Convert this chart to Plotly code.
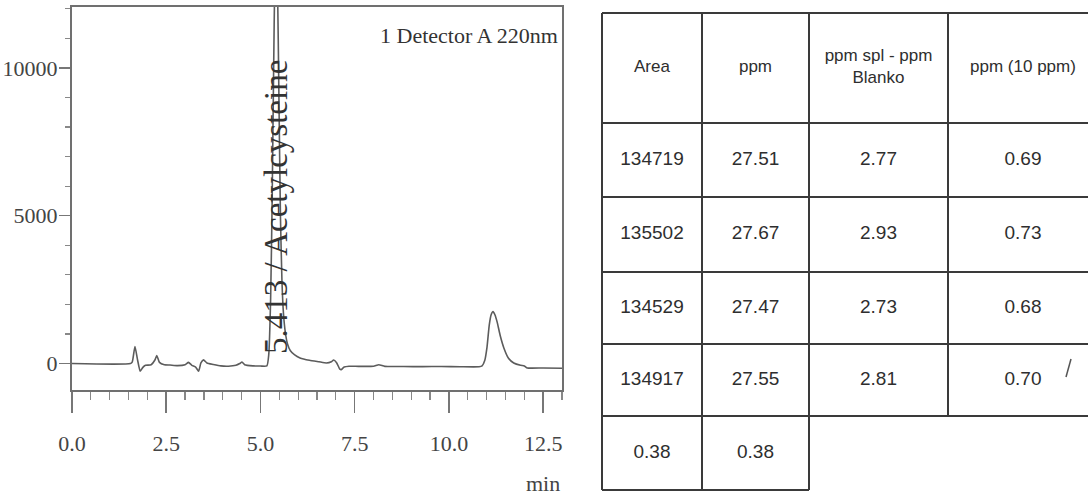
import plotly.graph_objects as go

# ---------------- chromatogram data ----------------
retention_min = [0.00, 1.55, 1.60, 1.67, 1.74, 1.81, 1.88, 1.95, 2.10, 2.20, 2.25, 2.32,
                 2.45, 2.60, 2.80, 3.00, 3.09, 3.18, 3.28, 3.36, 3.42, 3.49, 3.58, 3.75,
                 3.95, 4.15, 4.35, 4.45, 4.51, 4.58, 4.80, 5.00, 5.17, 5.22, 5.27, 5.31,
                 5.35, 5.38, 5.413, 5.45, 5.49, 5.53, 5.57, 5.61, 5.66, 5.72, 5.79, 5.90,
                 6.05, 6.30, 6.55, 6.75, 6.88, 6.94, 7.02, 7.10, 7.14, 7.22, 7.35, 7.60,
                 8.00, 8.14, 8.30, 8.80, 9.30, 9.80, 10.30, 10.80, 10.88, 10.95, 11.01,
                 11.07, 11.12, 11.17, 11.22, 11.28, 11.36, 11.46, 11.58, 11.72, 11.90,
                 12.00, 12.08, 12.50, 13.00]
signal_uv = [0, 0, 60, 575, 120, -260, -130, -60, -40, 120, 270, 40,
             -40, -50, -70, -40, 40, -60, -120, -260, 20, 125, 20, -30,
             -80, -90, -60, 0, 50, -40, -80, -85, -80, 300, 2200, 5500,
             10000, 13000, 14500, 13000, 9000, 5000, 2800, 1700, 1050, 650, 440, 300,
             190, 110, 60, 20, 60, 120, 30, -180, -210, -120, -90, -95,
             -90, -40, -95, -100, -105, -100, -110, -110, -80, 100, 550,
             1300, 1650, 1760, 1650, 1400, 950, 520, 180, 20, -60,
             -80, -150, -150, -160]

peak_rt = 5.413
peak_name = "Acetylcysteine"
detector_label = "1 Detector A 220nm"
x_unit = "min"

# ---------------- table data ----------------
table_headers = ["Area", "ppm", "ppm spl - ppm<br>Blanko", "ppm (10 ppm)"]
col_area = [134719, 135502, 134529, 134917, 0.38]
col_ppm = [27.51, 27.67, 27.47, 27.55, 0.38]
col_ppm_diff = [2.77, 2.93, 2.73, 2.81]
col_ppm_10 = [0.69, 0.73, 0.68, 0.70]
table_columns = [col_area, col_ppm, col_ppm_diff, col_ppm_10]


def fmt(v):
    return str(v) if isinstance(v, int) else f"{v:.2f}"


# ---------------- layout constants (pixels of the 1088x497 page) ----------------
W, H = 1088, 497
SERIF = "Liberation Serif, Times New Roman, serif"
SANS = "Liberation Sans, Arial, sans-serif"
COL_EDGES = [602, 702, 809, 948, 1098]
ROW_EDGES = [13, 123, 197, 272, 344, 416, 490]

fig = go.Figure()

fig.add_trace(go.Scatter(
    x=retention_min, y=signal_uv, mode="lines",
    line=dict(color="#5c5c5c", width=1.6, shape="spline", smoothing=0.5),
    xaxis="x", yaxis="y", showlegend=False, hoverinfo="skip"))

# ---- table grid ----
lx, ly = [], []
for r, yy in enumerate(ROW_EDGES):
    xr = COL_EDGES[2] if r == len(ROW_EDGES) - 1 else COL_EDGES[-1]
    lx += [COL_EDGES[0], xr, None]
    ly += [yy, yy, None]
for c, xx in enumerate(COL_EDGES):
    depth = 0
    for k in (c - 1, c):
        if 0 <= k < len(table_columns):
            depth = max(depth, len(table_columns[k]))
    lx += [xx, xx, None]
    ly += [ROW_EDGES[0], ROW_EDGES[depth + 1], None]
fig.add_trace(go.Scatter(
    x=lx, y=ly, mode="lines", line=dict(color="#3a3a3a", width=2),
    xaxis="x2", yaxis="y2", showlegend=False, hoverinfo="skip"))

hx, hy, ht = [], [], []
tx, ty, tt = [], [], []
for c, head in enumerate(table_headers):
    xc = (COL_EDGES[c] + COL_EDGES[c + 1]) / 2
    hx.append(xc)
    hy.append((ROW_EDGES[0] + ROW_EDGES[1]) / 2)
    ht.append(head)
    for r, v in enumerate(table_columns[c]):
        tx.append(xc)
        ty.append((ROW_EDGES[r + 1] + ROW_EDGES[r + 2]) / 2)
        tt.append(fmt(v))
fig.add_trace(go.Scatter(
    x=hx, y=hy, text=ht, mode="text",
    textfont=dict(family=SANS, size=17, color="#2e2e2e"),
    xaxis="x2", yaxis="y2", showlegend=False, hoverinfo="skip"))
fig.add_trace(go.Scatter(
    x=tx, y=ty, text=tt, mode="text",
    textfont=dict(family=SANS, size=19, color="#2e2e2e"),
    xaxis="x2", yaxis="y2", showlegend=False, hoverinfo="skip"))

# small hand-drawn check mark next to the last value
fig.add_shape(type="line", xref="x2", yref="y2", x0=1066, y0=377, x1=1071, y1=359,
              line=dict(color="#555", width=1.5))

# ---------------- axes ----------------
tickfont = dict(family=SERIF, size=22, color="#444")
fig.update_layout(
    width=W, height=H,
    margin=dict(l=0, r=0, t=0, b=0, autoexpand=False),
    paper_bgcolor="white", plot_bgcolor="rgba(0,0,0,0)",
    showlegend=False,
    xaxis=dict(domain=[72 / W, 562 / W], range=[0, 13.0], anchor="y", automargin=False,
               showline=True, linecolor="#707070", linewidth=2, mirror=True,
               showgrid=False, zeroline=False,
               tickmode="linear", tick0=0, dtick=2.5, tickformat=".1f",
               ticks="outside", ticklen=21, tickwidth=1.5, tickcolor="#777",
               minor=dict(tick0=0, dtick=0.5, ticks="outside", ticklen=8,
                          tickwidth=1.2, tickcolor="#888", showgrid=False),
               tickfont=tickfont, ticklabelstandoff=12, fixedrange=True),
    yaxis=dict(domain=[1 - 390 / H, 1 - 7 / H], range=[-895, 12060], anchor="x",
               automargin=False,
               showline=True, linecolor="#707070", linewidth=2, mirror=True,
               showgrid=False, zeroline=False,
               tickmode="linear", tick0=0, dtick=5000, tickformat="d",
               ticks="outside", ticklen=11, tickwidth=1.5, tickcolor="#777",
               minor=dict(tick0=0, dtick=1000, ticks="outside", ticklen=5,
                          tickwidth=1.2, tickcolor="#888", showgrid=False),
               tickfont=dict(family=SERIF, size=22, color="#444"),
               ticklabelstandoff=-3, fixedrange=True),
    xaxis2=dict(domain=[580 / W, 1], range=[580, 1088], anchor="y2", visible=False,
                automargin=False, fixedrange=True),
    yaxis2=dict(domain=[0, 1], range=[497, 0], anchor="x2", visible=False,
                automargin=False, fixedrange=True),
)

fig.add_annotation(text=f"{peak_rt:.3f} / {peak_name}", x=peak_rt, y=5300,
                   xref="x", yref="y", textangle=-90, showarrow=False,
                   font=dict(family=SERIF, size=33, color="#333"))
fig.add_annotation(text=detector_label, x=12.95, y=1 - 35 / H, xref="x", yref="paper",
                   xanchor="right", yanchor="middle", showarrow=False,
                   font=dict(family=SERIF, size=22, color="#333"))
fig.add_annotation(text=x_unit, x=13.0, y=1 - 483 / H, xref="x", yref="paper",
                   xanchor="right", yanchor="middle", showarrow=False,
                   font=dict(family=SERIF, size=22, color="#444"))

fig.write_html("out.html",
               config={"displayModeBar": False, "staticPlot": True},
               post_script="document.body.style.margin='0px';"
                           "document.body.style.overflow='hidden';")
